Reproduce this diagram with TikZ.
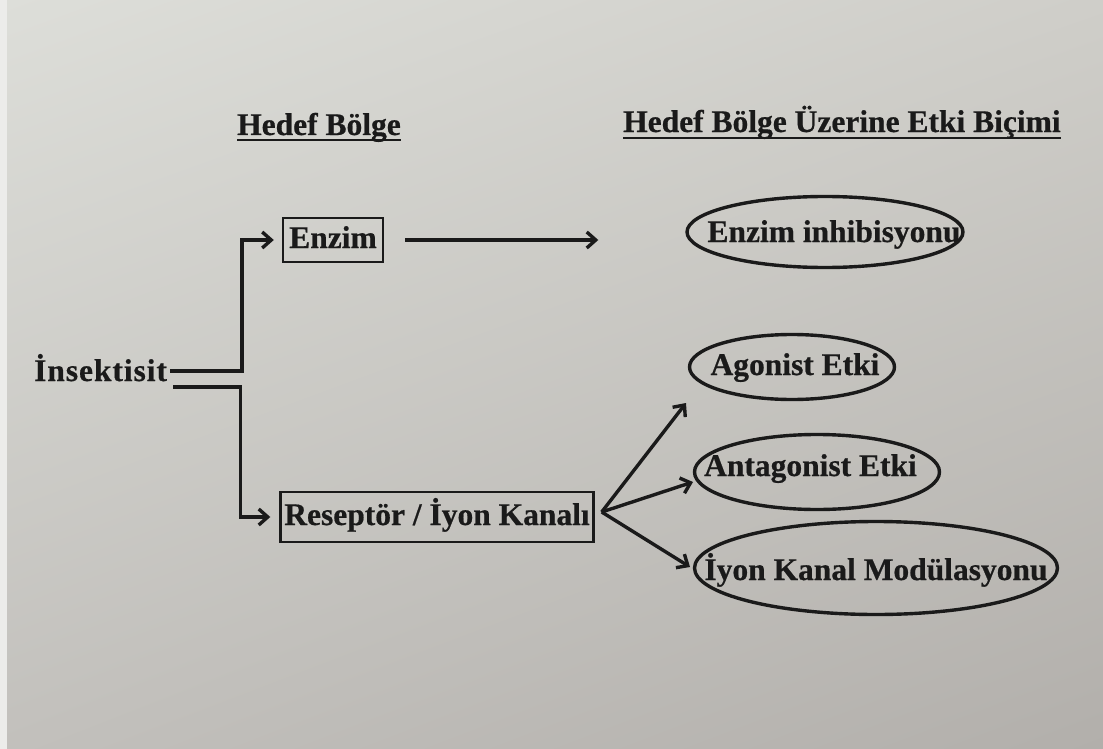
\documentclass[tikz,border=0pt]{standalone}
\usepackage{fontspec}
\setmainfont{Liberation Serif}[BoldFeatures={FakeBold=0.6}]
\usetikzlibrary{arrows.meta,calc,shapes.geometric,shadings}
\definecolor{ink}{HTML}{1A1A1A}
\definecolor{bgUL}{RGB}{221,222,217}
\definecolor{bgUR}{RGB}{207,206,201}
\definecolor{bgLL}{RGB}{194,192,188}
\definecolor{bgLR}{RGB}{178,175,171}
\definecolor{edgecol}{RGB}{236,236,234}
\begin{document}
\begin{tikzpicture}[x=1pt,y=-1pt,
  lbl/.style={font=\fontsize{31.5}{36}\selectfont\bfseries, text=ink, inner sep=0pt, text height=22pt, text depth=6pt},
  box/.style={lbl, draw=ink, line width=2.4pt, rectangle},
  oval/.style={lbl, draw=ink, line width=3.4pt, ellipse},
  conn/.style={draw=ink, line width=3.4pt},
  uline/.style={draw=ink, line width=2.6pt},
  arr/.style={conn, -{Straight Barb[length=9pt,width=16pt]}},
]
\useasboundingbox (0,0) rectangle (1103,749);
\shade[upper left=bgUL, upper right=bgUR, lower left=bgLL, lower right=bgLR] (0,0) rectangle (1103,749);
\fill[edgecol] (0,0) rectangle (7,749);

% titles
\node[lbl, anchor=base west] (t1) at (237,135) {Hedef Bölge};
\draw[uline] ([yshift=-5pt]t1.base west) -- ([yshift=-5pt]t1.base east);
\node[lbl, anchor=base west] (t2) at (623,132) {Hedef Bölge Üzerine Etki Biçimi};
\draw[uline] ([yshift=-6pt]t2.base west) -- ([yshift=-6pt]t2.base east);

% nodes
\node[lbl, anchor=base west] (ins) at (34,381) {\addfontfeature{LetterSpace=3}İnsektisit};
\node[box, minimum width=100pt, minimum height=44pt] (enz) at (333,240) {Enzim};
\node[box, minimum width=313pt, minimum height=50pt] (rec) at (437,517) {Reseptör / İyon Kanalı};

\node[oval, minimum width=276pt, minimum height=71pt] (einh) at (825,232) {\makebox[0pt]{\raisebox{-2pt}{\kern18pt Enzim inhibisyonu}}};
\node[oval, minimum width=205pt, minimum height=65pt] (ago) at (792,367) {\makebox[0pt]{\kern6pt Agonist Etki}};
\node[oval, minimum width=245pt, minimum height=75pt] (ant) at (817,472) {\makebox[0pt]{\raisebox{4pt}{Antagonist Etki\kern13pt}}};
\node[oval, minimum width=363pt, minimum height=93pt] (iyon) at (876,568) {\makebox[0pt]{\raisebox{-4pt}{İyon Kanal Modülasyonu}}};

% connectors
\draw[arr, shorten >=8pt] ([xshift=3pt,yshift=2pt]ins.east) -| ($(enz.west)+(-40,0)$) -- (enz.west);
\draw[arr, shorten >=9pt] ([xshift=6pt,yshift=-14pt]ins.east) -| ($(rec.west)+(-39,0)$) -- (rec.west);
\draw[arr, shorten <=21pt, shorten >=87pt] (enz.east) -- (enz.east -| einh.west);

\coordinate (fan) at ([xshift=7pt,yshift=5pt]rec.east);
\coordinate (tA) at (686,403);
\coordinate (tB) at (693,482);
\coordinate (tC) at (690,567);
\draw[arr] (fan) -- (tA);
\draw[arr] (fan) -- (tB);
\draw[arr] (fan) -- (tC);
\end{tikzpicture}
\end{document}
